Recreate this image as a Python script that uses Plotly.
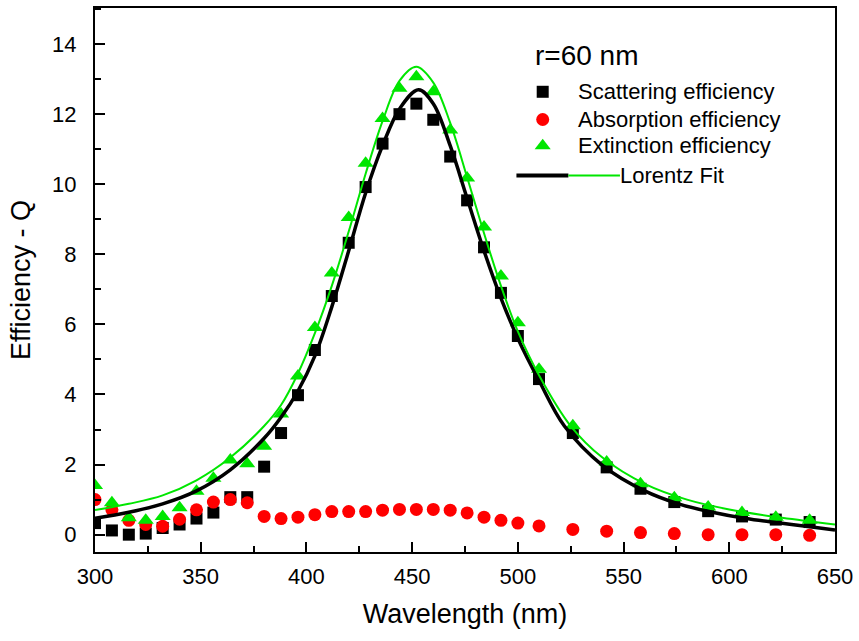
import plotly.graph_objects as go

# ---------------- data ----------------
wavelength = [300, 308, 316, 324, 332, 340, 348, 356, 364, 372, 380, 388, 396, 404,
              412, 420, 428, 436, 444, 452, 460, 468, 476, 484, 492, 500,
              510, 526, 542, 558, 574, 590, 606, 622, 638]
scattering = [0.33, 0.12, 0.00, 0.03, 0.19, 0.29, 0.46, 0.63, 1.07, 1.07, 1.94, 2.90, 3.98, 5.27,
              6.81, 8.33, 9.92, 11.16, 12.00, 12.30, 11.84, 10.79, 9.54, 8.20, 6.90, 5.67,
              4.44, 2.90, 1.92, 1.31, 0.93, 0.67, 0.52, 0.43, 0.36]
absorption = [1.00, 0.71, 0.41, 0.29, 0.24, 0.44, 0.71, 0.93, 1.00, 0.91, 0.52, 0.46, 0.50, 0.57,
              0.66, 0.66, 0.66, 0.70, 0.72, 0.72, 0.72, 0.70, 0.62, 0.50, 0.41, 0.33,
              0.25, 0.15, 0.10, 0.06, 0.03, 0.00, 0.00, 0.00, -0.02]
extinction = [1.40, 0.91, 0.48, 0.41, 0.52, 0.77, 1.24, 1.61, 2.13, 2.02, 2.52, 3.44, 4.53, 5.91,
              7.47, 9.05, 10.60, 11.88, 12.74, 13.07, 12.64, 11.55, 10.18, 8.78, 7.38, 6.05,
              4.72, 3.11, 2.07, 1.45, 1.05, 0.79, 0.63, 0.50, 0.41]

# Lorentz fit curves
fit_sca_wl = [300, 316, 332, 348, 364, 380, 388, 396, 404, 412, 420, 428, 436, 444, 453,
              460, 468, 476, 484, 492, 500, 510, 522, 540, 560, 576, 592, 608, 624, 640, 650]
fit_sca = [0.47, 0.64, 0.88, 1.25, 1.85, 2.75, 3.35, 4.10, 5.10, 6.50, 8.10, 9.75, 11.10, 12.15, 12.70,
           12.30, 11.10, 9.60, 8.10, 6.75, 5.60, 4.40, 3.10, 1.98, 1.25, 0.88, 0.64, 0.46, 0.33, 0.21, 0.13]
fit_ext_wl = [300, 316, 332, 348, 364, 380, 388, 396, 404, 412, 420, 428, 436, 444, 452,
              460, 468, 476, 484, 492, 500, 510, 525, 540, 560, 580, 600, 625, 650]
fit_ext = [0.70, 0.88, 1.12, 1.55, 2.20, 3.10, 3.70, 4.60, 5.75, 7.10, 8.65, 10.30, 11.80, 12.95, 13.35,
           12.90, 11.75, 10.20, 8.60, 7.10, 5.80, 4.55, 3.10, 2.20, 1.45, 1.00, 0.72, 0.48, 0.29]

x_ticks = [300, 350, 400, 450, 500, 550, 600, 650]
y_ticks = [0, 2, 4, 6, 8, 10, 12, 14]

legend_labels = ["Scattering efficiency", "Absorption efficiency", "Extinction efficiency", "Lorentz Fit"]
legend_title = "r=60 nm"

FONT = "Arial, Liberation Sans, sans-serif"
BLACK = "#000000"
RED = "#ff0000"
GREEN = "#00e600"

fig = go.Figure()

fig.add_trace(go.Scatter(x=wavelength, y=scattering, mode="markers",
                         marker=dict(symbol="square", size=12, color=BLACK, line=dict(width=0)),
                         showlegend=False))
fig.add_trace(go.Scatter(x=wavelength, y=absorption, mode="markers",
                         marker=dict(symbol="circle", size=13, color=RED, line=dict(width=0)),
                         showlegend=False))
fig.add_trace(go.Scatter(x=wavelength, y=extinction, mode="markers",
                         marker=dict(symbol="triangle-up", size=14, color=GREEN, line=dict(width=0)),
                         showlegend=False))
fig.add_trace(go.Scatter(x=fit_sca_wl, y=fit_sca, mode="lines",
                         line=dict(color=BLACK, width=3.5, shape="spline", smoothing=1.0),
                         showlegend=False))
fig.add_trace(go.Scatter(x=fit_ext_wl, y=fit_ext, mode="lines",
                         line=dict(color=GREEN, width=2, shape="spline", smoothing=1.0),
                         showlegend=False))

# ---------------- hand-drawn legend (paper-like overlay axes) ----------------
L = dict(x=0.605, ys=[0.846, 0.795, 0.747], tx=0.650, yline=0.692)
fig.add_trace(go.Scatter(x=[L["x"]], y=[L["ys"][0]], xaxis="x2", yaxis="y2", mode="markers",
                         marker=dict(symbol="square", size=12, color=BLACK), showlegend=False,
                         cliponaxis=False))
fig.add_trace(go.Scatter(x=[L["x"]], y=[L["ys"][1]], xaxis="x2", yaxis="y2", mode="markers",
                         marker=dict(symbol="circle", size=13, color=RED), showlegend=False,
                         cliponaxis=False))
fig.add_trace(go.Scatter(x=[L["x"]], y=[L["ys"][2]], xaxis="x2", yaxis="y2", mode="markers",
                         marker=dict(symbol="triangle-up", size=14, color=GREEN), showlegend=False,
                         cliponaxis=False))
fig.add_trace(go.Scatter(x=[0.5695, 0.6397], y=[L["yline"], L["yline"]], xaxis="x2", yaxis="y2",
                         mode="lines", line=dict(color=BLACK, width=4), showlegend=False))
fig.add_trace(go.Scatter(x=[0.6397, 0.7094], y=[L["yline"], L["yline"]], xaxis="x2", yaxis="y2",
                         mode="lines", line=dict(color=GREEN, width=2), showlegend=False))

annotations = [
    dict(x=0.592, y=0.913, xref="paper", yref="paper", text=legend_title, showarrow=False,
         xanchor="left", yanchor="middle", font=dict(size=28, color=BLACK, family=FONT)),
]
for i, lab in enumerate(legend_labels[:3]):
    annotations.append(dict(x=L["tx"], y=L["ys"][i], xref="paper", yref="paper", text=lab,
                            showarrow=False, xanchor="left", yanchor="middle",
                            font=dict(size=22, color=BLACK, family=FONT)))
annotations.append(dict(x=0.7094, y=L["yline"], xref="paper", yref="paper", text=legend_labels[3],
                        showarrow=False, xanchor="left", yanchor="middle", xshift=-2,
                        font=dict(size=22, color=BLACK, family=FONT)))

fig.update_layout(
    width=859, height=641,
    margin=dict(l=95, r=23, t=6, b=89, pad=0),
    paper_bgcolor="white", plot_bgcolor="white",
    font=dict(family=FONT, color=BLACK),
    annotations=annotations,
    xaxis=dict(range=[300, 650], tickvals=x_ticks, ticks="inside", ticklen=10, tickwidth=2,
               tickcolor=BLACK, showline=True, linewidth=2, linecolor=BLACK, mirror=True,
               showgrid=False, zeroline=False,
               minor=dict(dtick=25, tick0=300, ticks="inside", ticklen=6, tickwidth=2, tickcolor=BLACK),
               tickfont=dict(size=22, family=FONT), ticklabelstandoff=4,
               title=dict(text="Wavelength (nm)", font=dict(size=27, family=FONT), standoff=16)),
    yaxis=dict(range=[-0.495, 15.03], tickvals=y_ticks, ticks="inside", ticklen=10, tickwidth=2,
               tickcolor=BLACK, showline=True, linewidth=2, linecolor=BLACK, mirror=True,
               showgrid=False, zeroline=False,
               minor=dict(dtick=1, tick0=0, ticks="inside", ticklen=6, tickwidth=2, tickcolor=BLACK),
               tickfont=dict(size=22, family=FONT), ticklabelstandoff=12,
               title=dict(text="Efficiency - Q", font=dict(size=27, family=FONT), standoff=14)),
    xaxis2=dict(overlaying="x", range=[0, 1], visible=False, fixedrange=True),
    yaxis2=dict(overlaying="y", range=[0, 1], visible=False, fixedrange=True),
)

fig.write_html("out.html", config={"displayModeBar": False},
               post_script="document.body.style.margin='0px';document.body.style.overflow='hidden';")
